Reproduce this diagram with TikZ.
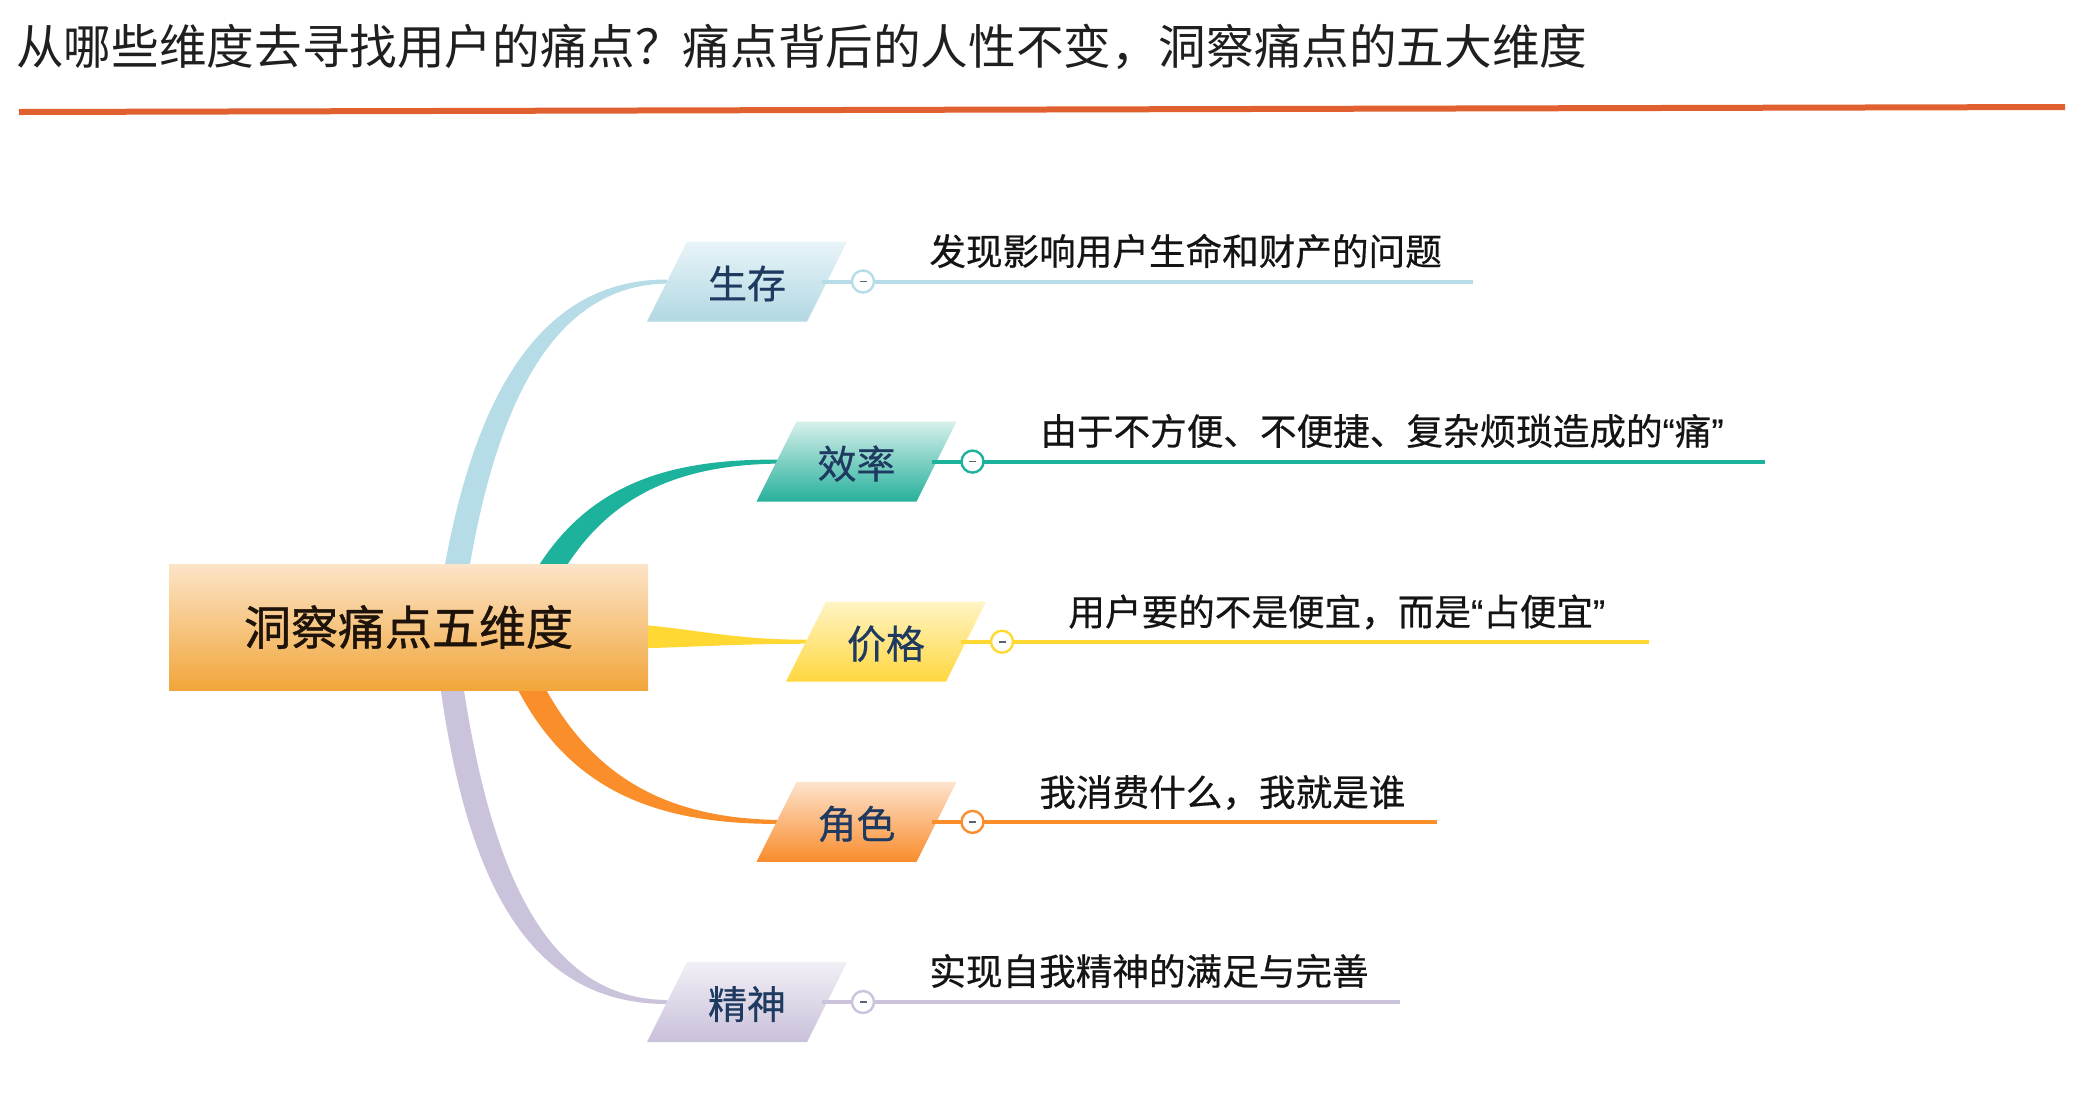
\documentclass[tikz,border=0pt]{standalone}
\usepackage{fontspec}
\setmainfont{Noto Sans CJK SC}
\newfontfamily\medfont[BoldFont=Noto Sans CJK SC, BoldFeatures={FakeBold=1.0}]{Noto Sans CJK SC}
\newfontfamily\semfont[BoldFont=Noto Sans CJK SC, BoldFeatures={FakeBold=0.5}]{Noto Sans CJK SC}
\newfontfamily\qfont[BoldFont=Liberation Sans, BoldFeatures={FakeBold=0.5}]{Liberation Sans}
\newcommand\myLq{{\qfont\bfseries “}}
\newcommand\myRq{{\qfont\bfseries ”}}
\usetikzlibrary{calc}
\definecolor{rulec}{HTML}{E0612F}
\definecolor{navy}{HTML}{1F3A60}
\definecolor{bl}{HTML}{B6DDE7}\definecolor{blT}{HTML}{E8F4F8}\definecolor{blB}{HTML}{B2D8E3}
\definecolor{te}{HTML}{1CB29C}\definecolor{teT}{HTML}{D6F0EB}\definecolor{teB}{HTML}{26B09B}
\definecolor{ye}{HTML}{FFD833}\definecolor{yeT}{HTML}{FFF4C4}\definecolor{yeB}{HTML}{FFD73F}
\definecolor{or}{HTML}{F98E2A}\definecolor{orT}{HTML}{FDE3CC}\definecolor{orB}{HTML}{F98C2C}
\definecolor{la}{HTML}{CBC3DC}\definecolor{laT}{HTML}{F1EFF6}\definecolor{laB}{HTML}{C9C0DA}
\definecolor{ceT}{HTML}{FCE4C8}\definecolor{ceB}{HTML}{F1A63A}
\tikzset{
  branchtext/.style={inner sep=0pt, text=navy, font=\fontsize{19.5}{22}\selectfont\semfont\bfseries},
  desc/.style={anchor=west, inner sep=0pt, text=black!92, font=\fontsize{18.3}{22}\selectfont\semfont\bfseries},
  knob/.style={circle, draw=#1, fill=white, line width=1.2pt, minimum size=11pt, inner sep=0pt},
  rline/.style={line width=2pt, draw=#1},
}
\newcommand\branch[8]{% name, cx, cy, topcol, botcol, linecol, label, line end x
  \path[top color=#4, bottom color=#5] (#2-60,#3-40) -- (#2+100,#3-40) -- (#2+60,#3+40) -- (#2-100,#3+40) -- cycle;
  \node[branchtext] (#1) at (#2,#3+2) {#7};
  \coordinate (#1-in) at (#2-80,#3);
  \coordinate (#1-out) at (#2+75,#3);
  \coordinate (#1-end) at (#8,#3);
  \draw[rline=#6] (#1-out) -- (#1-end);
  \node[knob=#6] (#1-k) at (#2+116,#3) {};
  \draw[gray!60!navy, line width=0.8pt] ($(#1-k)+(-3.5,0)$) -- ($(#1-k)+(3.5,0)$);
}
\begin{document}
\begin{tikzpicture}[x=0.5pt,y=-0.5pt]
\useasboundingbox[fill=white] (0,0) rectangle (2092,1116);
% title
\node[anchor=west, inner sep=0pt, font=\fontsize{23.8}{28}\selectfont, text=black!88] (title) at (16,47) {从哪些维度去寻找用户的痛点？痛点背后的人性不变，洞察痛点的五大维度};
\coordinate (rl) at (19,112);
\coordinate (rr) at (2065,107);
\draw[rulec, line width=3pt] (rl) -- (rr);
% tapered connectors
\fill[bl] (444,570) .. controls (478,378) and (550,279) .. (667,279.5) -- (667,283.5) .. controls (562,285) and (500,386) .. (469,570) -- cycle;
\fill[te] (536,570) .. controls (590,482) and (672,459) .. (777,459.6) -- (777,463.6) .. controls (684,465) and (612,492) .. (564,570) -- cycle;
\fill[ye] (600,622) .. controls (690,626) and (720,639.5) .. (806,639.7) -- (806,643.7) .. controls (720,644) and (690,648) .. (600,649) -- cycle;
\fill[or] (515,684) .. controls (568,790) and (655,824) .. (777,823.9) -- (777,819.9) .. controls (665,818) and (592,776) .. (543,684) -- cycle;
\fill[la] (440,684) .. controls (468,890) and (533,1004) .. (667,1004) -- (667,1000) .. controls (548,999) and (492,876) .. (463,684) -- cycle;
% central node
\node[rectangle, top color=ceT, bottom color=ceB, minimum width=239.5pt, minimum height=63pt, inner sep=0pt,
      font=\fontsize{23.5}{28}\selectfont\medfont\bfseries, text=black!85!brown] (root) at (408.5,627) {洞察痛点五维度};
% branches
\branch{b1}{747}{281.5}{blT}{blB}{bl}{生存}{1473}
\branch{b2}{856.5}{461.6}{teT}{teB}{te}{效率}{1765}
\branch{b3}{886}{641.7}{yeT}{yeB}{ye}{价格}{1649}
\branch{b4}{856.5}{821.9}{orT}{orB}{or}{角色}{1437}
\branch{b5}{747}{1002}{laT}{laB}{la}{精神}{1400}
% descriptions
\node[desc] (d1) at (929,251) {发现影响用户生命和财产的问题};
\node[desc] (d2) at (1040,431) {由于不方便、不便捷、复杂烦琐造成的\myLq 痛\myRq};
\node[desc] (d3) at (1068,612) {用户要的不是便宜，而是\myLq 占便宜\myRq};
\node[desc] (d4) at (1039,792.5) {我消费什么，我就是谁};
\node[desc] (d5) at (929,971) {实现自我精神的满足与完善};
\end{tikzpicture}
\end{document}
